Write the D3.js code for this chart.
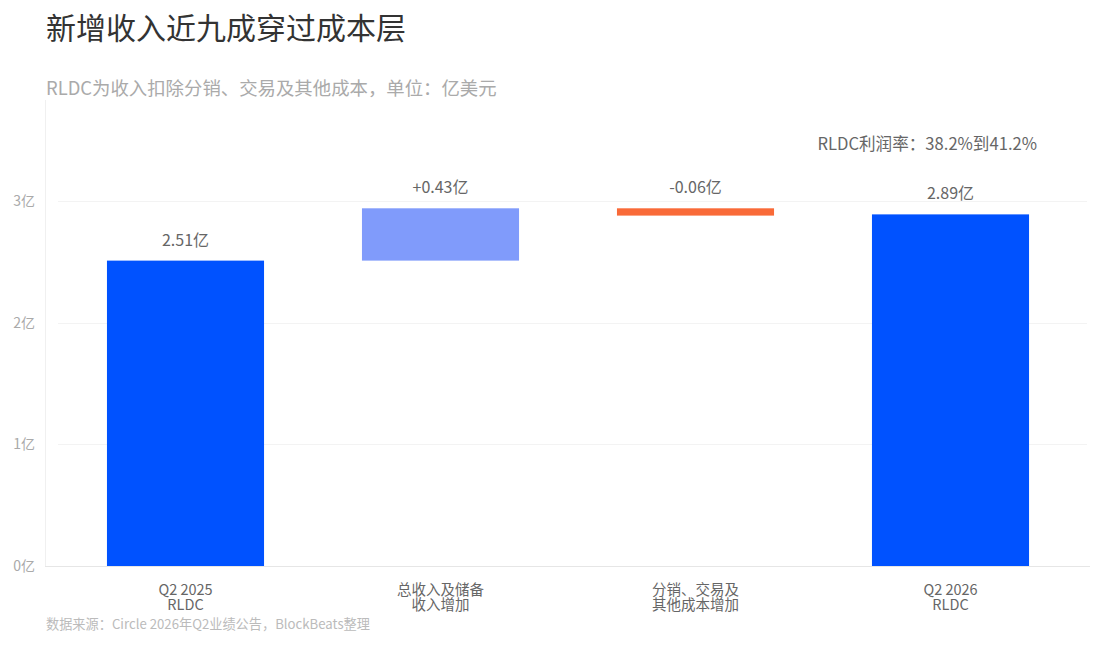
<!DOCTYPE html>
<html>
<head>
<meta charset="utf-8">
<script src="https://cdn.jsdelivr.net/npm/d3@7"></script>
<style>
  html, body { margin: 0; padding: 0; background: #fff; }
  svg { display: block; font-family: "Noto Sans CJK SC", "Noto Sans", sans-serif; }
</style>
</head>
<body>
<svg id="chart" width="1108" height="650"></svg>
<script>
// ---- data ----
const categories = [["Q2 2025", "RLDC"], ["总收入及储备", "收入增加"], ["分销、交易及", "其他成本增加"], ["Q2 2026", "RLDC"]];
const kinds = ["total", "up", "down", "total"];
const values = [2.51, 0.43, -0.06, 2.89];
const valueLabels = ["2.51亿", "+0.43亿", "-0.06亿", "2.89亿"];
const yTicks = [0, 1, 2, 3];
const yTickLabels = ["0亿", "1亿", "2亿", "3亿"];
const titleText = "新增收入近九成穿过成本层";
const subtitleText = "RLDC为收入扣除分销、交易及其他成本，单位：亿美元";
const noteText = "RLDC利润率：38.2%到41.2%";
const sourceText = "数据来源：Circle 2026年Q2业绩公告，BlockBeats整理";

// ---- build waterfall segments ----
let running = 0;
const segs = values.map((v, i) => {
  let y0, y1;
  if (kinds[i] === "total") { y0 = 0; y1 = v; running = v; }
  else { y0 = running; y1 = running + v; running = y1; }
  return { i, kind: kinds[i], lo: Math.min(y0, y1), hi: Math.max(y0, y1), label: valueLabels[i] };
});

const colors = { total: "#0052FF", up: "#809BFB", down: "#F96A38" };

const svg = d3.select("#chart");
const x = d3.scaleBand().domain(d3.range(categories.length)).range([58, 1078])
  .paddingInner(0.384).paddingOuter(0.192);
const y = d3.scaleLinear().domain([0, 3]).range([566, 201]);

// title & subtitle
svg.append("text").attr("x", 46).attr("y", 39).attr("font-size", 30).attr("fill", "#333")
  .text(titleText);
svg.append("text").attr("x", 46).attr("y", 95).attr("font-size", 18.4).attr("fill", "#aaa")
  .text(subtitleText);

// left axis line
svg.append("line").attr("x1", 45.5).attr("x2", 45.5).attr("y1", 100).attr("y2", 566)
  .attr("stroke", "#f0f0f0").attr("stroke-width", 1);

// gridlines
svg.append("g").selectAll("line").data(yTicks.filter(d => d > 0)).join("line")
  .attr("x1", 58).attr("x2", 1087)
  .attr("y1", d => Math.round(y(d)) + 0.5).attr("y2", d => Math.round(y(d)) + 0.5)
  .attr("stroke", "#f3f3f3").attr("stroke-width", 1);

// baseline
svg.append("line").attr("x1", 45).attr("x2", 1090)
  .attr("y1", Math.round(y(0)) + 0.5).attr("y2", Math.round(y(0)) + 0.5)
  .attr("stroke", "#e6e6e6").attr("stroke-width", 1);

// y tick labels
svg.append("g").selectAll("text").data(yTicks).join("text")
  .attr("x", 35).attr("y", d => y(d) + 5).attr("text-anchor", "end")
  .attr("font-size", 14).attr("fill", "#aaa")
  .text((d, i) => yTickLabels[i]);

// bars
svg.append("g").selectAll("rect").data(segs).join("rect")
  .attr("x", d => x(d.i)).attr("width", x.bandwidth())
  .attr("y", d => y(d.hi)).attr("height", d => y(d.lo) - y(d.hi))
  .attr("fill", d => colors[d.kind]);

// value labels
svg.append("g").selectAll("text").data(segs).join("text")
  .attr("x", d => x(d.i) + x.bandwidth() / 2).attr("y", d => y(d.hi) - 15)
  .attr("text-anchor", "middle").attr("font-size", 16).attr("fill", "#666")
  .text(d => d.label);

// category labels
const cat = svg.append("g").selectAll("text").data(categories).join("text")
  .attr("text-anchor", "middle").attr("font-size", 14.5).attr("fill", "#666");
cat.each(function(lines, i) {
  const t = d3.select(this);
  lines.forEach((ln, j) => {
    t.append("tspan").attr("x", x(i) + x.bandwidth() / 2).attr("y", 595 + j * 15).text(ln);
  });
});

// note
svg.append("text").attr("x", 1037).attr("y", 150).attr("text-anchor", "end")
  .attr("font-size", 16.6).attr("fill", "#666").text(noteText);

// source
svg.append("text").attr("x", 46).attr("y", 629).attr("font-size", 13.2).attr("fill", "#bbb")
  .text(sourceText);
</script>
</body>
</html>
